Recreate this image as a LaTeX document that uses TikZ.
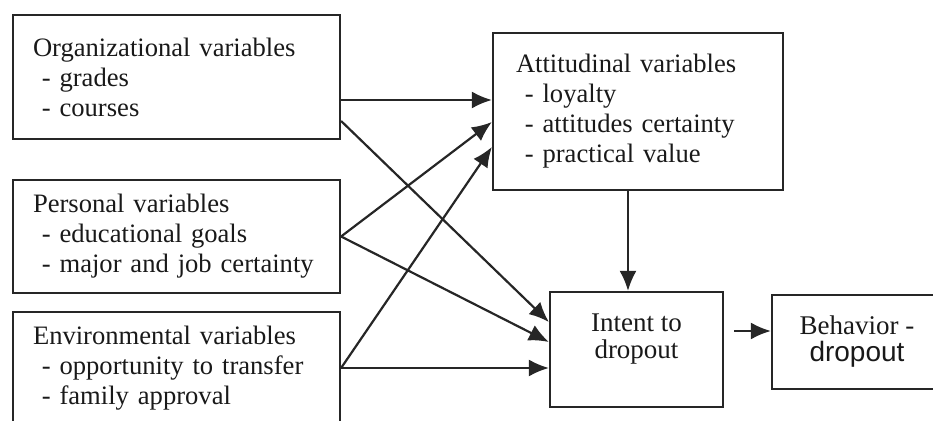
\documentclass[tikz,border=0pt]{standalone}
\usepackage{fontspec}
\setmainfont{Liberation Serif}
\newfontfamily\dropfont{Liberation Sans}
\usetikzlibrary{arrows.meta}
\usetikzlibrary{positioning}

\begin{document}
\begin{tikzpicture}[>={Latex[length=10pt,width=8.5pt]}, x=0.5pt, y=-0.5pt,
  varbox/.style={draw=black!85, line width=1.1pt, align=left, inner xsep=10pt,
    text=black!90, font=\fontsize{13.3}{15}\selectfont},
  endbox/.style={draw=black!85, line width=1.1pt, align=center,
    text=black!90, font=\fontsize{13.5}{13.5}\selectfont},
  link/.style={->, draw=black!85, line width=1.1pt}]

  \clip (0,0) rectangle (933,421);

  % left column
  \node[varbox, minimum width=163.5pt, minimum height=62pt, text width=143.5pt]
    (org) at (176.5,77) {Organizational variables\\~- grades\\~- courses};
  \node[varbox, minimum width=163.5pt, minimum height=56.5pt, text width=143.5pt]
    (pers) at (176.5,236.5) {Personal variables\\~- educational goals\\~- major and job certainty};
  \node[varbox, minimum width=163.5pt, minimum height=56pt, text width=143.5pt]
    (env) at (176.5,368) {Environmental variables\\~- opportunity to transfer\\~- family approval};

  % right part
  \node[varbox, inner xsep=11.5pt, minimum width=145pt, minimum height=78.5pt, text width=122pt]
    (att) at (638,111.5) {Attitudinal variables\\~- loyalty\\~- attitudes certainty\\~- practical value};
  \node[endbox, minimum width=86.5pt, minimum height=57.5pt]
    (intent) at (636.5,349.5) {Intent to\\dropout\\\mbox{}};
  \node[endbox, minimum width=85pt, minimum height=47pt]
    (behav) at (857,342) {Behavior -\\{\dropfont\fontsize{14}{13.5}\selectfont dropout}};

  % connectors
  \draw[link] ([yshift=-11.5pt]org.east) -- ([yshift=5.75pt]att.west);
  \draw[link] ([yshift=-22pt]org.east) -- ([yshift=13.75pt]intent.west);
  \draw[link] (pers.east) -- ([yshift=-5.25pt]att.west);
  \draw[link] (pers.east) -- ([yshift=3.75pt]intent.west);
  \draw[link] (env.east) -- ([yshift=-17.75pt]att.west);
  \draw[link] (env.east) -- (intent.west |- env.east);
  \draw[link] ([xshift=-5pt]att.south) -- ([xshift=-5pt]att.south |- intent.north);
  \draw[link, shorten <=5pt] ([yshift=5.5pt]behav.west -| intent.east) -- ([yshift=5.5pt]behav.west);

\end{tikzpicture}
\end{document}
